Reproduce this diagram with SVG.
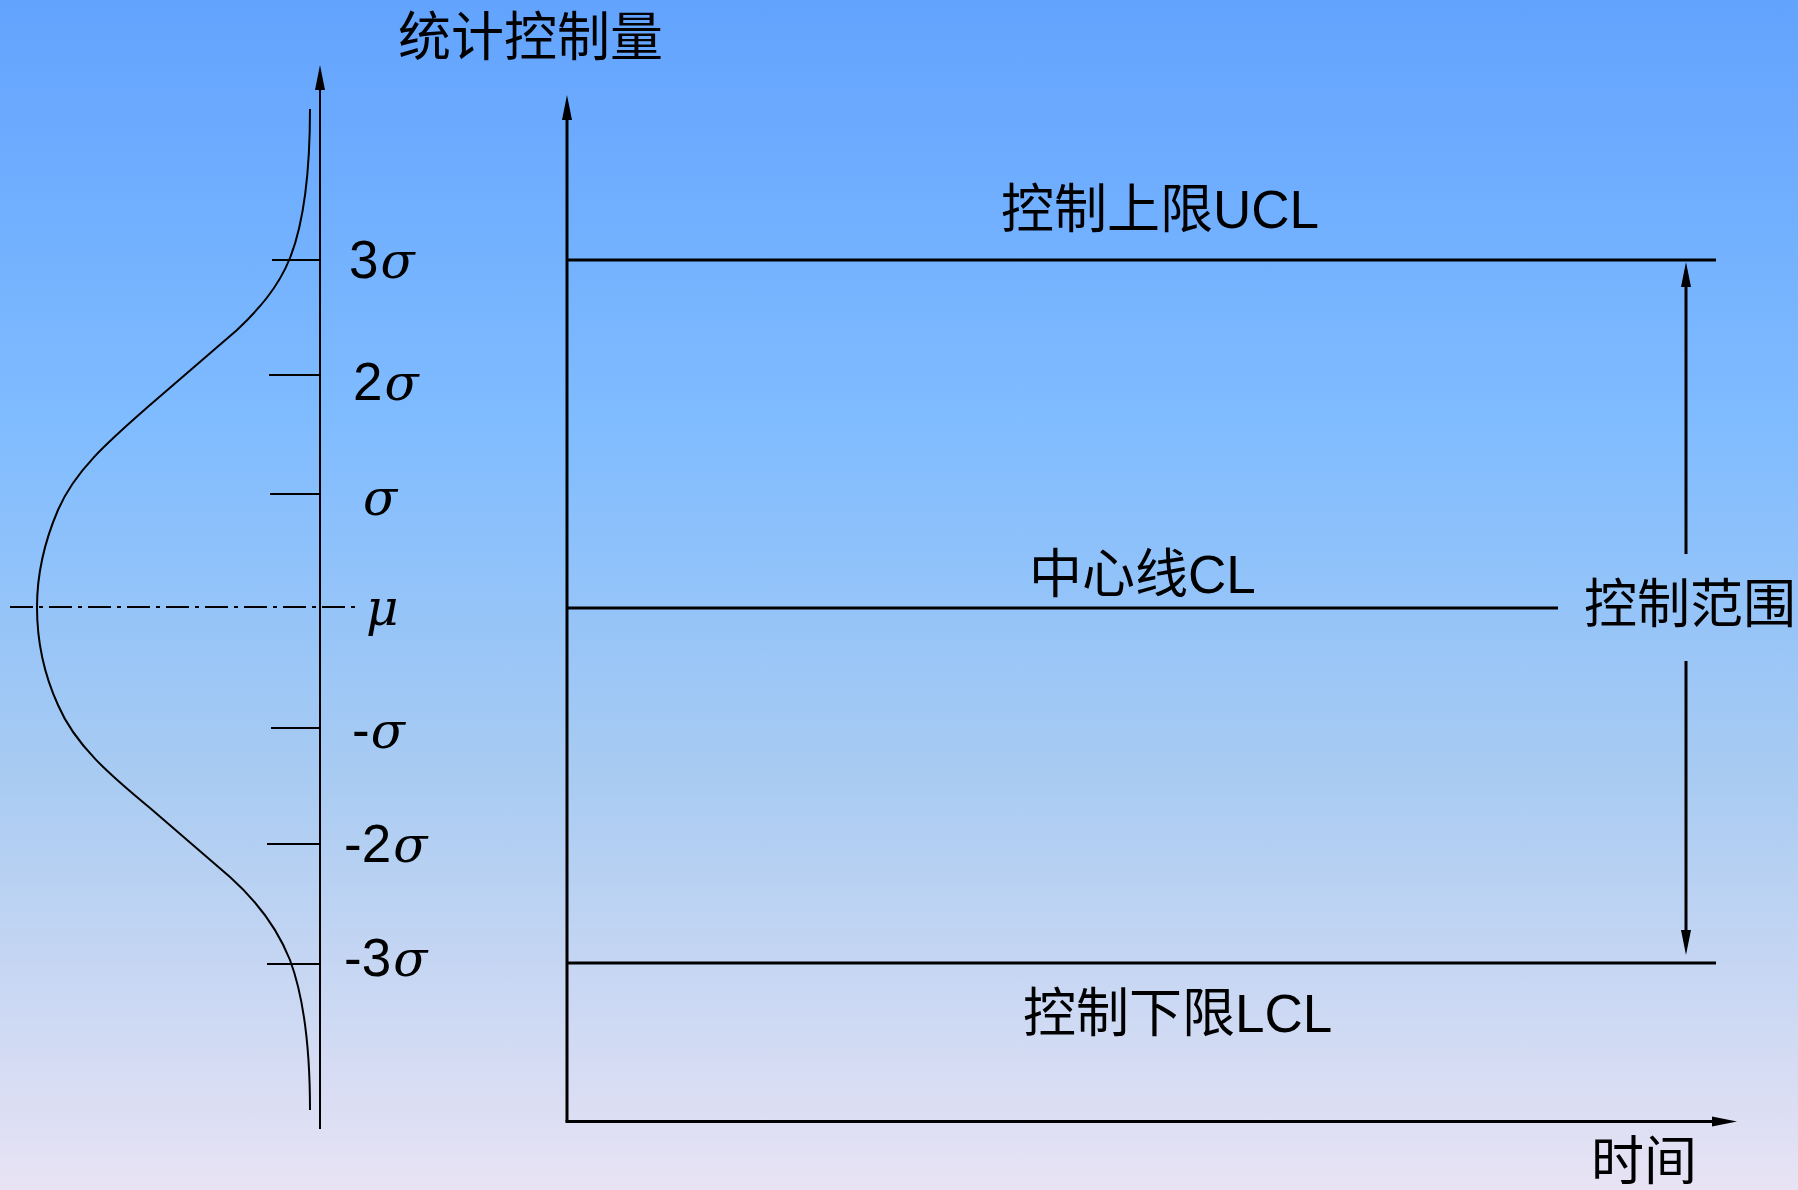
<svg xmlns="http://www.w3.org/2000/svg" width="1798" height="1190" viewBox="0 0 1798 1190">
  <defs>
    <linearGradient id="bg" x1="0" y1="0" x2="0" y2="1">
      <stop offset="0" stop-color="#62a3fe"/>
      <stop offset="0.36" stop-color="#80bcff"/>
      <stop offset="0.65" stop-color="#a8cbf2"/>
      <stop offset="1" stop-color="#e8e3f4"/>
    </linearGradient>
    <marker id="arrow" markerUnits="userSpaceOnUse" markerWidth="26" markerHeight="12" refX="0" refY="5" orient="auto" overflow="visible">
      <path d="M0,0 L25,5 L0,10 Z" fill="#000"/>
    </marker>
  </defs>
  <style>
    .ln { stroke: #000; fill: none; }
    .thin { stroke-width: 2; }
    .thick { stroke-width: 3; }
    .cjk { font-family: "Liberation Sans", "Noto Sans CJK SC", sans-serif; font-size: 53px; fill: #000; }
    .lbl { font-family: "Liberation Sans", Arial, sans-serif; font-size: 53px; fill: #000; }
    .gr { font-family: "DejaVu Serif", "Liberation Serif", serif; font-style: italic; font-size: 50px; }
  </style>

  <rect x="0" y="0" width="1798" height="1190" fill="url(#bg)"/>

  <g id="distribution">
    <path class="ln thin" d="M310,109 C310,180 303,225 290,258 C278,288 258,310 237,330 L150,405 C110,440 75,470 58,510 C43,545 37,580 37,607 C37,635 42,670 58,705 C75,745 110,775 150,808 L230,877 C258,902 278,930 290,960 C303,995 310,1040 310,1110"/>
    <line class="ln thin" x1="10" y1="607" x2="356" y2="607" stroke-dasharray="23 6 4 6"/>
  </g>

  <g id="sigma-ticks">
    <line class="ln thin" x1="272" y1="260" x2="321" y2="260"/>
    <line class="ln thin" x1="269" y1="375" x2="321" y2="375"/>
    <line class="ln thin" x1="270" y1="494" x2="321" y2="494"/>
    <line class="ln thin" x1="271" y1="728" x2="321" y2="728"/>
    <line class="ln thin" x1="267" y1="844" x2="321" y2="844"/>
    <line class="ln thin" x1="267" y1="964" x2="321" y2="964"/>
  </g>

  <g id="sigma-labels">
    <text class="lbl" x="349" y="278">3<tspan class="gr" dx="2">σ</tspan></text>
    <text class="lbl" x="353" y="400">2<tspan class="gr" dx="2">σ</tspan></text>
    <text class="lbl" x="363" y="515"><tspan class="gr">σ</tspan></text>
    <text class="lbl" x="366" y="625"><tspan class="gr">μ</tspan></text>
    <text class="lbl" x="352" y="748">-<tspan class="gr" dx="1">σ</tspan></text>
    <text class="lbl" x="344" y="862">-2<tspan class="gr" dx="2">σ</tspan></text>
    <text class="lbl" x="344" y="976">-3<tspan class="gr" dx="2">σ</tspan></text>
  </g>

  <g id="control-lines">
    <line class="ln thick" x1="566" y1="260" x2="1716" y2="260"/>
    <line class="ln thick" x1="566" y1="608" x2="1558" y2="608"/>
    <line class="ln thick" x1="566" y1="963" x2="1716" y2="963"/>
  </g>

  <g id="connectors">
    <line class="ln thin" x1="320" y1="1129" x2="320" y2="90" marker-end="url(#arrow)"/>
    <line class="ln thick" x1="567" y1="1121.5" x2="567" y2="120" marker-end="url(#arrow)"/>
    <line class="ln thick" x1="565.5" y1="1121.5" x2="1712" y2="1121.5" marker-end="url(#arrow)"/>
    <line class="ln thick" x1="1686" y1="554" x2="1686" y2="287" marker-end="url(#arrow)"/>
    <line class="ln thick" x1="1686" y1="661" x2="1686" y2="930" marker-end="url(#arrow)"/>
  </g>

  <g id="title"><text class="cjk" x="398" y="56">统计控制量</text></g>
  <g id="ucl-label"><text class="cjk" x="1001" y="228">控制上限UCL</text></g>
  <g id="cl-label"><text class="cjk" x="1029" y="593">中心线CL</text></g>
  <g id="lcl-label"><text class="cjk" x="1023" y="1032">控制下限LCL</text></g>
  <g id="range-label"><text class="cjk" x="1584" y="623">控制范围</text></g>
  <g id="time-label"><text class="cjk" x="1591" y="1180">时间</text></g>
</svg>
